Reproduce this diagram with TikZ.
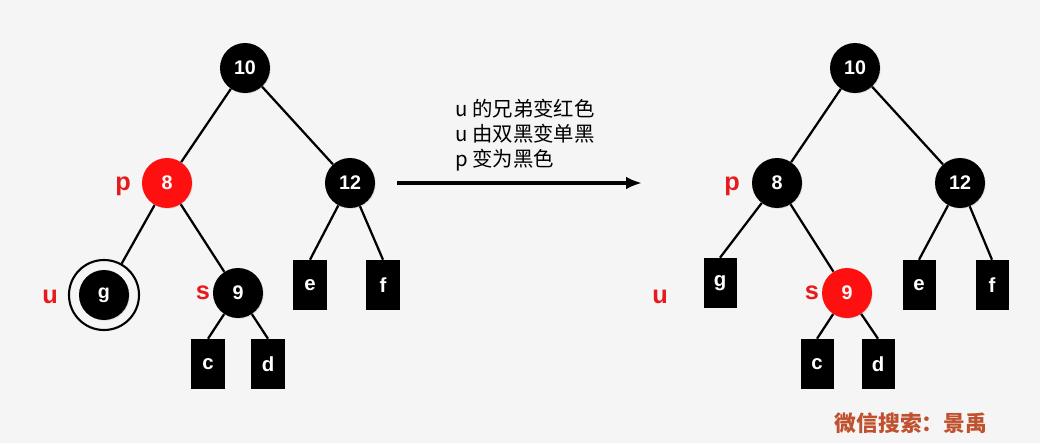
\documentclass[tikz,border=0pt]{standalone}
\usepackage{fontspec}
\setmainfont{Liberation Sans}
\newfontfamily\cjk{Noto Sans CJK SC}
\usetikzlibrary{arrows.meta,shadows}
\definecolor{bggray}{HTML}{F5F5F5}
\definecolor{nodered}{HTML}{FF1010}
\definecolor{labelred}{HTML}{E8191A}
\definecolor{markbrown}{HTML}{C0512E}
\tikzset{
  >={Latex[length=4mm,width=3.2mm]},
  blacknode/.style={
    circle,
    fill=black,
    minimum size=1.25cm,
    inner sep=0pt,
    text=white,
    font=\fontsize{14}{16}\selectfont\bfseries,
    drop shadow={opacity=0.18, shadow xshift=0.6pt, shadow yshift=-0.6pt},
  },
  rednode/.style={blacknode, fill=nodered},
  ringnode/.style={circle, draw=black, line width=1.5pt, minimum size=1.75cm, inner sep=0pt},
  leafbox/.style={
    rectangle,
    fill=black,
    minimum width=0.825cm,
    minimum height=1.25cm,
    inner sep=0pt,
    text=white,
    font=\fontsize{14.5}{16}\selectfont\bfseries,
  },
  tag/.style={text=labelred, font=\fontsize{18}{20}\selectfont\bfseries, inner sep=0pt},
  edge/.style={line width=1.6pt},
  note/.style={font=\cjk\fontsize{14.5}{17.8}\selectfont, align=left, anchor=north west, inner sep=0pt},
}
\begin{document}
\begin{tikzpicture}[x=0.025cm, y=-0.025cm]
  \useasboundingbox[fill=bggray] (0,0) rectangle (1040,443);

  % left tree: before the recolouring
  \node[blacknode] (a10) at (245, 68) {10};
  \node[rednode] (a8) at (167, 183) {8};
  \node[blacknode] (a12) at (350, 183) {12};
  \node[blacknode] (ag) at (104, 295) {g};
  \node[ringnode] (agring) at (104, 295) {};
  \node[blacknode] (a9) at (238, 293) {9};
  \node[leafbox] (ae) at (310, 285) {e};
  \node[leafbox] (af) at (383, 285) {f};
  \node[leafbox] (ac) at (208, 364) {c};
  \node[leafbox] (ad) at (268, 364) {d};

  \node[tag] (ap) at (123, 186) {p};
  \node[tag] (au) at (50, 297) {u};
  \node[tag] (as) at (203, 293) {s};

  \draw[edge] (a10) -- (a8);
  \draw[edge] (a10) -- (a12);
  \draw[edge] (a8) -- (agring);
  \draw[edge] (a8) -- (a9);
  \draw[edge] (a12) -- (ae.north);
  \draw[edge] (a12) -- (af.north);
  \draw[edge] (a9) -- (ac.north);
  \draw[edge] (a9) -- (ad.north);

  % transition arrow with the three steps
  \coordinate (arrstart) at (397, 183);
  \coordinate (arrend) at (642, 183);
  \draw[->, line width=2.5pt] (arrstart) -- (arrend);
  \node[note] (steps) at (455, 99) {u 的兄弟变红色\\u 由双黑变单黑\\p 变为黑色};

  % right tree: after the recolouring
  \node[blacknode] (b10) at (855, 68) {10};
  \node[blacknode] (b8) at (777, 183) {8};
  \node[blacknode] (b12) at (960, 183) {12};
  \node[leafbox] (bg) at (720, 283) {g};
  \node[rednode] (b9) at (847, 293) {9};
  \node[leafbox] (be) at (919, 285) {e};
  \node[leafbox] (bf) at (992, 285) {f};
  \node[leafbox] (bc) at (817, 364) {c};
  \node[leafbox] (bd) at (878, 364) {d};

  \node[tag] (bp) at (732, 186) {p};
  \node[tag] (bu) at (660, 297) {u};
  \node[tag] (bs) at (812, 293) {s};

  \draw[edge] (b10) -- (b8);
  \draw[edge] (b10) -- (b12);
  \draw[edge] (b8) -- (bg.north);
  \draw[edge] (b8) -- (b9);
  \draw[edge] (b12) -- (be.north);
  \draw[edge] (b12) -- (bf.north);
  \draw[edge] (b9) -- (bc.north);
  \draw[edge] (b9) -- (bd.north);

  \node[font=\cjk\fontsize{15.5}{17}\selectfont\bfseries, text=markbrown] (mark) at (911, 423) {微信搜索：景禹};
\end{tikzpicture}
\end{document}
